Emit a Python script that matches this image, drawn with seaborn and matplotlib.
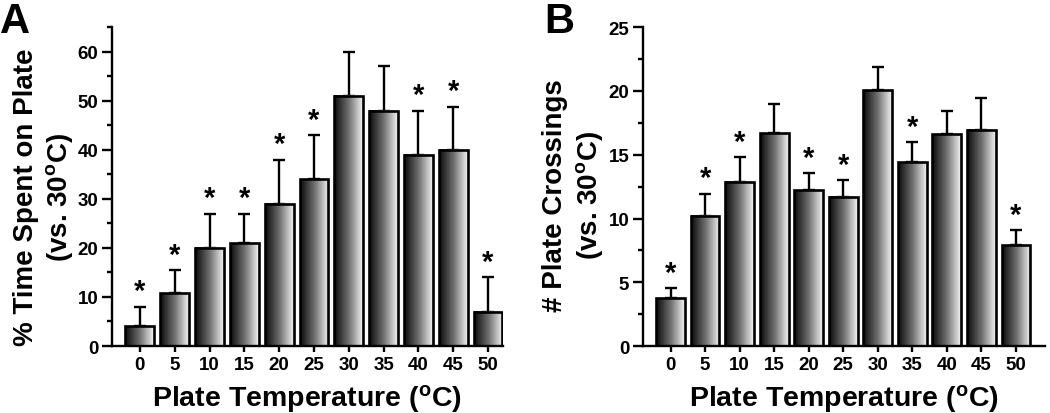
import numpy as np
import matplotlib
matplotlib.use("Agg")
import matplotlib.pyplot as plt
from matplotlib.colors import LinearSegmentedColormap
from matplotlib.ticker import MultipleLocator
import seaborn as sns

temps = ["0", "5", "10", "15", "20", "25", "30", "35", "40", "45", "50"]
time_mean = [4, 10.8, 20, 21, 29, 34, 51, 48, 39, 40, 7]
time_err = [4, 4.7, 7, 6, 9, 9, 9, 9, 9, 8.8, 7]
time_star = [1, 1, 1, 1, 1, 1, 0, 0, 1, 1, 1]
cross_mean = [3.75, 10.2, 12.9, 16.7, 12.2, 11.7, 20.05, 14.4, 16.6, 16.95, 7.9]
cross_err = [0.8, 1.75, 1.9, 2.3, 1.35, 1.3, 1.8, 1.6, 1.8, 2.5, 1.2]
cross_star = [1, 1, 1, 0, 1, 1, 0, 1, 0, 0, 1]

sns.set_theme(style="ticks")
plt.rcParams["font.family"] = ["Liberation Sans", "DejaVu Sans"]
plt.rcParams["font.weight"] = "bold"
plt.rcParams["text.color"] = "black"
plt.rcParams["axes.labelcolor"] = "black"
plt.rcParams["xtick.color"] = "black"
plt.rcParams["ytick.color"] = "black"
plt.rcParams["mathtext.fontset"] = "custom"
plt.rcParams["mathtext.rm"] = "Liberation Sans:bold"
plt.rcParams["mathtext.it"] = "Liberation Sans:bold"
plt.rcParams["mathtext.bf"] = "Liberation Sans:bold"

cmap = LinearSegmentedColormap.from_list("g", ["#0a0a0a", "#6e6e6e", "#f4f4f4"])
grad = np.linspace(0, 1, 256).reshape(1, -1)

fig = plt.figure(figsize=(10.5, 4.14), dpi=100)
axA = fig.add_axes([0.1067, 0.1618, 0.372, 0.770])
axB = fig.add_axes([0.6124, 0.1618, 0.383, 0.770])


def panel(ax, mean, err, star, ymax, major, minor, ylabel, xmax, lx, ly):
    sns.barplot(x=temps, y=mean, ax=ax, width=0.83, color="white",
                edgecolor="black", linewidth=1.9, zorder=3)
    for p in ax.patches:
        x0, y0 = p.get_x(), p.get_y()
        w, h = p.get_width(), p.get_height()
        ax.imshow(grad, extent=[x0, x0 + w, y0, y0 + h], aspect="auto",
                  cmap=cmap, zorder=2, interpolation="bicubic")
        p.set_facecolor("none")
    pos = np.arange(len(temps))
    ax.errorbar(pos, mean, yerr=[np.zeros(len(err)), err], fmt="none",
                ecolor="black", elinewidth=1.7, capsize=4, capthick=1.7, zorder=1)
    for i, s in enumerate(star):
        if s:
            ax.annotate("*", (pos[i], mean[i] + err[i]), xytext=(0, 1),
                        textcoords="offset points", ha="center", va="bottom",
                        fontsize=21, fontweight="bold", color="black")
    ax.set_xlim(-0.8, xmax)
    ax.set_ylim(0, ymax)
    ax.yaxis.set_major_locator(MultipleLocator(major))
    ax.yaxis.set_minor_locator(MultipleLocator(minor))
    sns.despine(ax=ax)
    for sp in ["left", "bottom"]:
        ax.spines[sp].set_linewidth(1.7)
        ax.spines[sp].set_color("black")
    ax.tick_params(axis="y", which="major", length=7, width=1.7, labelsize=13.5, pad=3)
    ax.tick_params(axis="y", which="minor", length=3.5, width=1.7)
    ax.tick_params(axis="x", which="major", length=4.5, width=1.7, labelsize=13.5, pad=3)
    for lab in ax.get_xticklabels() + ax.get_yticklabels():
        lab.set_fontweight("bold")
    ax.set_xlabel(r"Plate Temperature ($^{\rm o}$C)", fontsize=20.5, fontweight="bold", labelpad=6)
    ax.set_ylabel(ylabel, fontsize=20, fontweight="bold", linespacing=1.25)
    ax.yaxis.set_label_coords(lx, ly)
    ax.set_facecolor("white")


panel(axA, time_mean, time_err, time_star, 65, 10, 5,
      "% Time Spent on Plate\n(vs. 30$^{\\rm o}$C)", 10.42, -0.094, 0.47)
panel(axB, cross_mean, cross_err, cross_star, 25, 5, 2.5,
      "# Plate Crossings\n(vs. 30$^{\\rm o}$C)", 10.85, -0.094, 0.476)

fig.text(0.0, 1 - 33 / 414, "A", fontsize=30, fontweight="bold", ha="left", va="baseline")
fig.text(0.518, 1 - 33 / 414, "B", fontsize=30, fontweight="bold", ha="left", va="baseline")

fig.savefig("out.png", dpi=100, facecolor="white")
